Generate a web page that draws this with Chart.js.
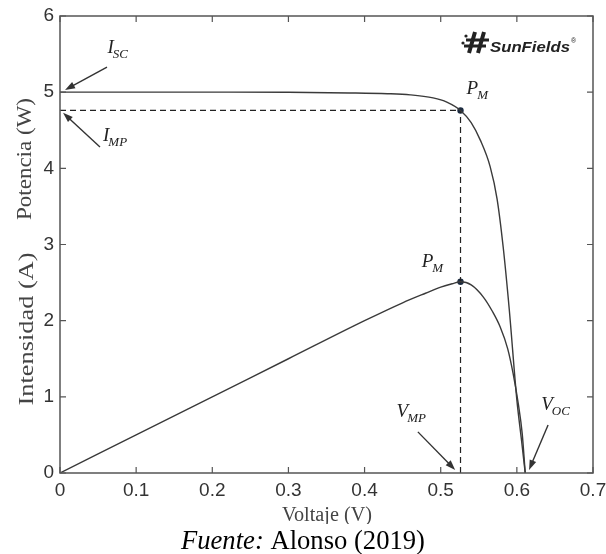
<!DOCTYPE html>
<html>
<head>
<meta charset="utf-8">
<script src="https://cdn.jsdelivr.net/npm/chart.js@4.4.0/dist/chart.umd.min.js"></script>
<style>
  html, body { margin: 0; padding: 0; background: #fff; }
  #wrap { width: 606px; height: 554px; }
</style>
</head>
<body>
<div id="wrap"><canvas id="c" width="606" height="554"></canvas></div>
<script>
// ---- data ----
const voltageI = [0, 0.1, 0.2, 0.3, 0.38, 0.43, 0.46, 0.49, 0.508, 0.526, 0.54, 0.552, 0.565, 0.574, 0.582, 0.59, 0.6, 0.606, 0.611];
const currentA = [5.0, 5.0, 5.0, 4.998, 4.99, 4.98, 4.965, 4.925, 4.87, 4.76, 4.6, 4.37, 4.02, 3.6, 2.97, 2.15, 0.96, 0.44, 0.0];
const voltageP = [0, 0.1, 0.2, 0.3, 0.4, 0.45, 0.48, 0.5, 0.515, 0.526, 0.54, 0.556, 0.568, 0.578, 0.588, 0.595, 0.602, 0.607, 0.611];
const powerW   = [0, 0.5, 1.0, 1.5, 2.0, 2.235, 2.36, 2.44, 2.485, 2.51, 2.47, 2.31, 2.12, 1.92, 1.63, 1.31, 0.9, 0.52, 0.0];
const vmp = 0.526;
const imp = 4.76;
const pmax = 2.51;
const xTicks = [0, 0.1, 0.2, 0.3, 0.4, 0.5, 0.6, 0.7];
const yTicks = [0, 1, 2, 3, 4, 5, 6];
const xTitle = 'Voltaje (V)';
const yTitlePower = 'Potencia (W)';
const yTitleCurrent = 'Intensidad (A)';
const caption = ['Fuente:', ' Alonso (2019)'];

const pts = (xs, ys) => xs.map((x, i) => ({ x: x, y: ys[i] }));

const CURVE = '#3a3a3a';
const FRAME = '#555555';
const SERIF = '"Liberation Serif", "DejaVu Serif", serif';
const SANS = '"Liberation Sans", Arial, sans-serif';

function fitText(ctx, text, font, target) {
  ctx.font = '20px ' + font;
  const w = ctx.measureText(text).width;
  return 20 * target / w;
}

function arrow(ctx, x1, y1, x2, y2) {
  const ang = Math.atan2(y2 - y1, x2 - x1);
  const hl = 10, hw = 3.5;
  ctx.save();
  ctx.strokeStyle = '#333';
  ctx.fillStyle = '#333';
  ctx.lineWidth = 1.4;
  ctx.beginPath();
  ctx.moveTo(x1, y1);
  ctx.lineTo(x2 - Math.cos(ang) * hl * 0.8, y2 - Math.sin(ang) * hl * 0.8);
  ctx.stroke();
  ctx.beginPath();
  ctx.moveTo(x2, y2);
  ctx.lineTo(x2 - Math.cos(ang) * hl + Math.sin(ang) * hw, y2 - Math.sin(ang) * hl - Math.cos(ang) * hw);
  ctx.lineTo(x2 - Math.cos(ang) * hl - Math.sin(ang) * hw, y2 - Math.sin(ang) * hl + Math.cos(ang) * hw);
  ctx.closePath();
  ctx.fill();
  ctx.restore();
}

function subLabel(ctx, main, sub, x, y) {
  ctx.save();
  ctx.fillStyle = '#222';
  ctx.textBaseline = 'alphabetic';
  ctx.textAlign = 'left';
  ctx.font = 'italic 19px ' + SERIF;
  ctx.fillText(main, x, y);
  const w = ctx.measureText(main).width;
  ctx.font = 'italic 13px ' + SERIF;
  ctx.fillText(sub, x + w - 1, y + 5);
  ctx.restore();
}

function vertText(ctx, text, cx, cy, size, target) {
  ctx.save();
  ctx.fillStyle = '#444';
  ctx.textAlign = 'center';
  ctx.textBaseline = 'middle';
  ctx.font = size + 'px ' + SERIF;
  const w = ctx.measureText(text).width;
  ctx.translate(cx, cy);
  ctx.rotate(-Math.PI / 2);
  ctx.scale(target / w, 1);
  ctx.fillText(text, 0, 0);
  ctx.restore();
}

const decor = {
  id: 'decor',
  afterDraw(chart) {
    const ctx = chart.ctx;
    const xs = chart.scales.x, ys = chart.scales.y;
    const a = chart.chartArea;
    const X = v => xs.getPixelForValue(v);
    const Y = v => ys.getPixelForValue(v);

    // frame
    ctx.save();
    ctx.strokeStyle = FRAME;
    ctx.lineWidth = 1.5;
    ctx.strokeRect(a.left, a.top, a.right - a.left, a.bottom - a.top);
    // inward ticks on all sides
    ctx.lineWidth = 1.2;
    ctx.beginPath();
    xTicks.forEach(v => {
      const px = X(v);
      ctx.moveTo(px, a.bottom); ctx.lineTo(px, a.bottom - 6);
      ctx.moveTo(px, a.top); ctx.lineTo(px, a.top + 6);
    });
    yTicks.forEach(v => {
      const py = Y(v);
      ctx.moveTo(a.left, py); ctx.lineTo(a.left + 6, py);
      ctx.moveTo(a.right, py); ctx.lineTo(a.right - 6, py);
    });
    ctx.stroke();
    ctx.restore();

    // annotations
    subLabel(ctx, 'I', 'SC', X(0.0623), Y(5.51));
    arrow(ctx, X(0.0617), Y(5.33), X(0.0066), Y(5.03));
    subLabel(ctx, 'I', 'MP', X(0.0565), Y(4.36));
    arrow(ctx, X(0.0525), Y(4.28), X(0.0040), Y(4.73));
    subLabel(ctx, 'P', 'M', X(0.534), Y(4.97));
    subLabel(ctx, 'P', 'M', X(0.475), Y(2.70));
    subLabel(ctx, 'V', 'MP', X(0.442), Y(0.73));
    arrow(ctx, X(0.470), Y(0.54), X(0.519), Y(0.04));
    subLabel(ctx, 'V', 'OC', X(0.632), Y(0.83));
    arrow(ctx, X(0.641), Y(0.63), X(0.616), Y(0.04));

    // axis titles
    vertText(ctx, yTitlePower, 25, 159, 22, 122);
    vertText(ctx, yTitleCurrent, 27, 329, 22, 153);

    ctx.save();
    ctx.fillStyle = '#444';
    ctx.textAlign = 'center';
    ctx.textBaseline = 'alphabetic';
    const fs = fitText(ctx, xTitle, SERIF, 90);
    ctx.font = fs + 'px ' + SERIF;
    ctx.fillText(xTitle, 327, 521);
    ctx.restore();

    // caption (white band clips the axis title like the reference)
    ctx.save();
    ctx.fillStyle = '#fff';
    ctx.fillRect(0, 524, 606, 30);
    ctx.fillStyle = '#000';
    ctx.textBaseline = 'alphabetic';
    ctx.textAlign = 'left';
    ctx.font = 'italic 20px ' + SERIF;
    const w1 = ctx.measureText(caption[0]).width;
    ctx.font = '20px ' + SERIF;
    const w2 = ctx.measureText(caption[1]).width;
    const k = 244 / (w1 + w2);
    const cs = 20 * k;
    const x0 = 303 - 122;
    ctx.font = 'italic ' + cs + 'px ' + SERIF;
    ctx.fillText(caption[0], x0, 549);
    ctx.font = cs + 'px ' + SERIF;
    ctx.fillText(caption[1], x0 + w1 * k, 549);
    ctx.restore();

    // logo
    ctx.save();
    ctx.fillStyle = '#222';
    ctx.strokeStyle = '#222';
    ctx.lineWidth = 4;
    ctx.beginPath();
    ctx.moveTo(475, 32); ctx.lineTo(469, 53);
    ctx.moveTo(484, 32); ctx.lineTo(478, 53);
    ctx.stroke();
    ctx.lineWidth = 3;
    ctx.beginPath();
    ctx.moveTo(466, 40); ctx.lineTo(489, 40);
    ctx.moveTo(464, 46); ctx.lineTo(486, 46);
    ctx.stroke();
    ctx.beginPath();
    ctx.arc(466, 36, 1.6, 0, Math.PI * 2);
    ctx.fill();
    ctx.beginPath();
    ctx.arc(463, 43, 1.6, 0, Math.PI * 2);
    ctx.fill();
    ctx.font = 'bold italic 15px ' + SANS;
    ctx.textBaseline = 'alphabetic';
    ctx.textAlign = 'left';
    const lw = ctx.measureText('SunFields').width;
    ctx.save();
    ctx.translate(490, 52);
    ctx.scale(80 / lw, 1);
    ctx.fillText('SunFields', 0, 0);
    ctx.restore();
    ctx.font = '7px ' + SANS;
    ctx.fillText('®', 571, 43);
    ctx.restore();
  }
};

new Chart(document.getElementById('c'), {
  type: 'scatter',
  data: {
    datasets: [
      {
        label: 'Intensidad',
        data: pts(voltageI, currentA),
        showLine: true,
        borderColor: CURVE,
        borderWidth: 1.4,
        pointRadius: 0,
        cubicInterpolationMode: 'monotone',
        fill: false
      },
      {
        label: 'Potencia',
        data: pts(voltageP, powerW),
        showLine: true,
        borderColor: CURVE,
        borderWidth: 1.4,
        pointRadius: 0,
        cubicInterpolationMode: 'monotone',
        fill: false
      },
      {
        label: 'Imp',
        data: [{ x: 0, y: imp }, { x: vmp, y: imp }],
        showLine: true,
        borderColor: '#222',
        borderWidth: 1.2,
        borderDash: [6, 4],
        pointRadius: 0
      },
      {
        label: 'Vmp',
        data: [{ x: vmp, y: 0 }, { x: vmp, y: imp }],
        showLine: true,
        borderColor: '#222',
        borderWidth: 1.2,
        borderDash: [6, 4],
        pointRadius: 0
      },
      {
        label: 'PM',
        data: [{ x: vmp, y: imp }, { x: vmp, y: pmax }],
        showLine: false,
        pointRadius: 3.2,
        pointBackgroundColor: '#1c2b40',
        pointBorderColor: '#1c2b40',
        pointBorderWidth: 0
      }
    ]
  },
  options: {
    responsive: false,
    animation: false,
    events: [],
    layout: { padding: { left: 0, right: 13, top: 16, bottom: 0 } },
    plugins: { legend: { display: false }, tooltip: { enabled: false } },
    scales: {
      x: {
        type: 'linear',
        min: 0,
        max: 0.7,
        afterBuildTicks: s => { s.ticks = xTicks.map(v => ({ value: v })); },
        afterFit: s => { s.height = 81; s.paddingLeft = 0; s.paddingRight = 0; },
        grid: { display: false, drawTicks: false },
        border: { display: false },
        ticks: {
          callback: v => String(v),
          color: '#333',
          font: { family: SANS, size: 19 },
          padding: 6,
          maxRotation: 0,
          autoSkip: false
        }
      },
      y: {
        type: 'linear',
        min: 0,
        max: 6,
        afterBuildTicks: s => { s.ticks = yTicks.map(v => ({ value: v })); },
        afterFit: s => { s.width = 60; s.paddingTop = 0; s.paddingBottom = 0; },
        grid: { display: false, drawTicks: false },
        border: { display: false },
        ticks: {
          callback: v => String(v),
          color: '#333',
          font: { family: SANS, size: 19 },
          padding: 6,
          autoSkip: false
        }
      }
    }
  },
  plugins: [decor]
});
</script>
</body>
</html>
